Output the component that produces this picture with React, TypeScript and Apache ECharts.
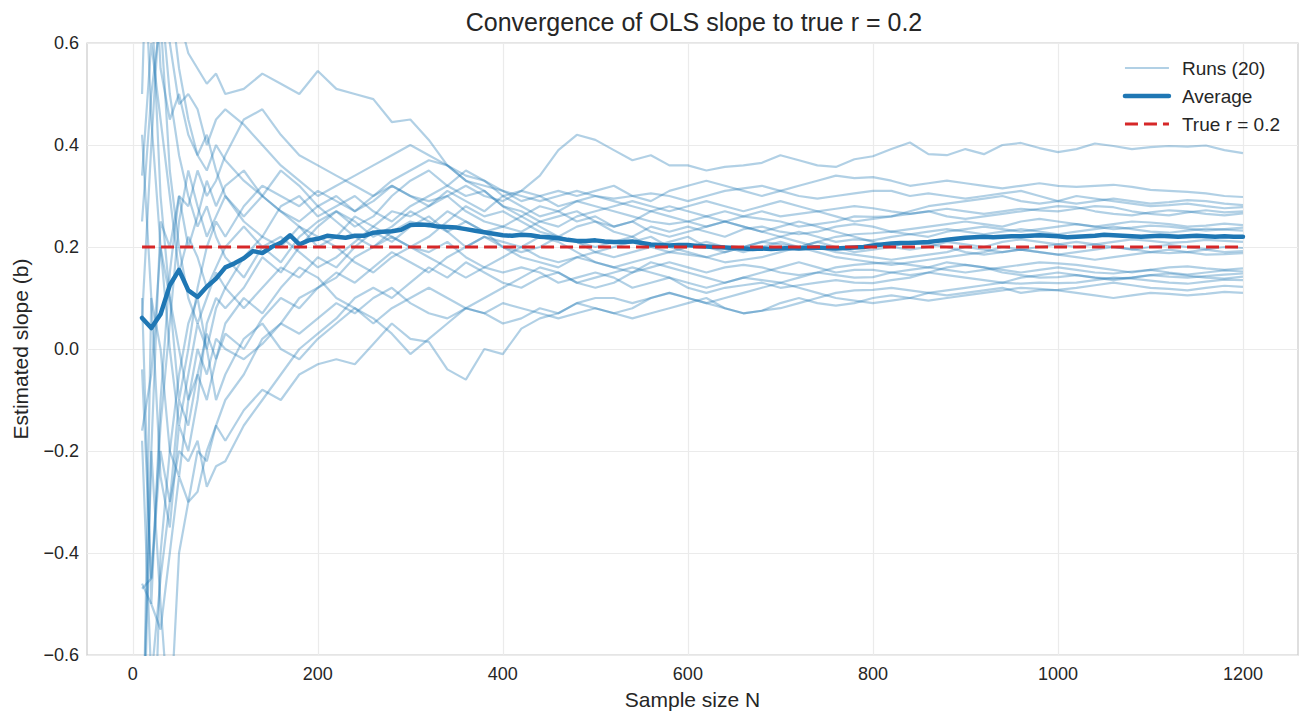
import React, { useEffect, useRef } from "react";
import * as echarts from "echarts";

const TITLE = "Convergence of OLS slope to true r = 0.2";
const X_LABEL = "Sample size N";
const Y_LABEL = "Estimated slope (b)";
const X_TICKS = [0, 200, 400, 600, 800, 1000, 1200];
const TRUE_R = 0.2;

const RUN_N = [
  10, 20, 30, 40, 50, 60, 70, 80, 90, 100,
  120, 140, 160, 180, 200, 220, 240, 260, 280, 300,
  320, 340, 360, 380, 400, 420, 440, 460, 480, 500,
  520, 540, 560, 580, 600, 620, 640, 660, 680, 700,
  720, 740, 760, 780, 800, 820, 840, 860, 880, 900,
  920, 940, 960, 980, 1000, 1020, 1040, 1060, 1080, 1100,
  1120, 1140, 1160, 1180, 1200,
];

const RUN_01 = [0.9, 0.9, 0.55, 0.45, 0.5, 0.42, 0.38, 0.35, 0.4, 0.37,
  0.33, 0.3, 0.27, 0.25, 0.28, 0.3, 0.27, 0.29, 0.32, 0.3,
  0.28, 0.31, 0.29, 0.27, 0.3, 0.31, 0.34, 0.39, 0.42, 0.41,
  0.39, 0.37, 0.38, 0.36, 0.36, 0.35, 0.357, 0.36, 0.365, 0.38,
  0.37, 0.36, 0.357, 0.372, 0.378, 0.392, 0.405, 0.382, 0.38, 0.392,
  0.382, 0.4, 0.404, 0.394, 0.386, 0.392, 0.403, 0.398, 0.392, 0.396,
  0.398, 0.397, 0.399, 0.39, 0.384];
const RUN_02 = [-0.9, -0.2, 0.25, 0.2, 0.3, 0.28, 0.35, 0.3, 0.33, 0.38,
  0.45, 0.47, 0.42, 0.38, 0.36, 0.34, 0.32, 0.3, 0.33, 0.35,
  0.37, 0.36, 0.34, 0.33, 0.31, 0.29, 0.3, 0.31, 0.3, 0.31,
  0.32, 0.3, 0.29, 0.31, 0.32, 0.33, 0.32, 0.31, 0.3, 0.31,
  0.32, 0.33, 0.34, 0.335, 0.337, 0.33, 0.32, 0.325, 0.33, 0.325,
  0.32, 0.315, 0.32, 0.325, 0.32, 0.318, 0.32, 0.322, 0.318, 0.312,
  0.31, 0.308, 0.305, 0.3, 0.298];
const RUN_03 = [1.2, 0.95, 0.8, 0.72, 0.65, 0.58, 0.55, 0.52, 0.54, 0.5,
  0.51, 0.54, 0.52, 0.5, 0.545, 0.51, 0.5, 0.49, 0.445, 0.45,
  0.41, 0.36, 0.33, 0.32, 0.31, 0.3, 0.29, 0.3, 0.31, 0.3,
  0.295, 0.3, 0.305, 0.3, 0.29, 0.3, 0.31, 0.315, 0.32, 0.31,
  0.3, 0.295, 0.3, 0.305, 0.31, 0.31, 0.3, 0.305, 0.3, 0.295,
  0.3, 0.305, 0.31, 0.3, 0.29, 0.285, 0.29, 0.295, 0.29, 0.285,
  0.288, 0.292, 0.29, 0.285, 0.282];
const RUN_04 = [-1.6, -1.0, -0.4, -0.2, -0.05, 0.05, 0.1, 0.0, 0.08, 0.12,
  0.18, 0.22, 0.28, 0.3, 0.26, 0.28, 0.3, 0.27, 0.25, 0.28,
  0.3, 0.32, 0.35, 0.33, 0.3, 0.28, 0.26, 0.27, 0.25, 0.26,
  0.24, 0.25, 0.27, 0.26, 0.25, 0.24, 0.25, 0.26, 0.27, 0.26,
  0.265, 0.27, 0.26, 0.25, 0.255, 0.26, 0.27, 0.28, 0.285, 0.29,
  0.295, 0.3, 0.29, 0.285, 0.29, 0.3, 0.295, 0.29, 0.285, 0.28,
  0.282, 0.285, 0.28, 0.276, 0.278];
const RUN_05 = [0.34, 0.6, 0.45, 0.3, 0.15, 0.22, 0.18, 0.12, 0.16, 0.2,
  0.24, 0.2, 0.17, 0.22, 0.25, 0.27, 0.24, 0.26, 0.3, 0.33,
  0.35, 0.32, 0.3, 0.31, 0.28, 0.27, 0.25, 0.24, 0.26, 0.27,
  0.28, 0.29, 0.28, 0.27, 0.28, 0.29, 0.28, 0.27, 0.28, 0.29,
  0.28, 0.27, 0.275, 0.28, 0.276, 0.27, 0.265, 0.27, 0.275, 0.27,
  0.265, 0.27, 0.275, 0.272, 0.27, 0.275, 0.28, 0.278, 0.27, 0.265,
  0.262, 0.268, 0.272, 0.268, 0.27];
const RUN_06 = [0.5, 1.1, 0.9, 0.7, 0.55, 0.45, 0.38, 0.42, 0.35, 0.3,
  0.26, 0.3, 0.35, 0.32, 0.28, 0.25, 0.22, 0.2, 0.23, 0.25,
  0.24, 0.27, 0.25, 0.23, 0.24, 0.26, 0.28, 0.27, 0.29, 0.28,
  0.27, 0.26, 0.25, 0.245, 0.25, 0.26, 0.27, 0.26, 0.255, 0.25,
  0.24, 0.245, 0.25, 0.26, 0.259, 0.26, 0.265, 0.27, 0.26, 0.255,
  0.26, 0.265, 0.27, 0.275, 0.28, 0.278, 0.27, 0.265, 0.262, 0.268,
  0.272, 0.27, 0.265, 0.262, 0.266];
const RUN_07 = [0.1, -0.5, -0.1, 0.15, 0.3, 0.2, 0.26, 0.33, 0.28, 0.32,
  0.35, 0.3, 0.27, 0.24, 0.2, 0.22, 0.26, 0.24, 0.22, 0.2,
  0.22, 0.25, 0.28, 0.26, 0.27, 0.25, 0.23, 0.22, 0.24, 0.25,
  0.23, 0.22, 0.24, 0.23, 0.24, 0.23, 0.22, 0.235, 0.24, 0.23,
  0.225, 0.23, 0.24, 0.245, 0.24, 0.23, 0.235, 0.24, 0.245, 0.25,
  0.245, 0.24, 0.25, 0.255, 0.25, 0.245, 0.24, 0.245, 0.25, 0.248,
  0.245, 0.24, 0.242, 0.246, 0.243];
const RUN_08 = [1.3, 0.8, 0.7, 0.6, 0.48, 0.5, 0.47, 0.4, 0.45, 0.47,
  0.44, 0.4, 0.36, 0.33, 0.3, 0.32, 0.34, 0.36, 0.38, 0.4,
  0.38, 0.36, 0.33, 0.31, 0.28, 0.26, 0.24, 0.22, 0.21, 0.2,
  0.21, 0.22, 0.2, 0.19, 0.2, 0.21, 0.2, 0.19, 0.2, 0.21,
  0.2, 0.21, 0.22, 0.225, 0.227, 0.23, 0.225, 0.22, 0.23, 0.235,
  0.24, 0.235, 0.23, 0.235, 0.24, 0.245, 0.24, 0.235, 0.238, 0.242,
  0.24, 0.236, 0.232, 0.235, 0.238];
const RUN_09 = [0.25, 0.5, 0.65, 0.35, 0.2, 0.1, 0.05, 0.1, 0.15, 0.12,
  0.08, 0.12, 0.16, 0.14, 0.18, 0.16, 0.2, 0.23, 0.21, 0.24,
  0.26, 0.23, 0.2, 0.22, 0.2, 0.19, 0.2, 0.22, 0.21, 0.19,
  0.18, 0.19, 0.2, 0.21, 0.22, 0.2, 0.19, 0.2, 0.21, 0.22,
  0.23, 0.22, 0.21, 0.215, 0.213, 0.22, 0.225, 0.23, 0.235, 0.23,
  0.225, 0.23, 0.235, 0.23, 0.225, 0.23, 0.235, 0.24, 0.235, 0.23,
  0.228, 0.232, 0.236, 0.234, 0.232];
const RUN_10 = [-0.16, -0.05, 0.2, 0.1, -0.1, 0.0, 0.12, 0.2, 0.25, 0.22,
  0.28, 0.32, 0.3, 0.28, 0.31, 0.29, 0.27, 0.3, 0.32, 0.3,
  0.29, 0.3, 0.27, 0.25, 0.24, 0.23, 0.25, 0.26, 0.27, 0.25,
  0.24, 0.25, 0.23, 0.22, 0.23, 0.24, 0.25, 0.24, 0.23, 0.24,
  0.25, 0.24, 0.23, 0.22, 0.21, 0.2, 0.195, 0.2, 0.21, 0.205,
  0.2, 0.21, 0.215, 0.21, 0.205, 0.2, 0.205, 0.21, 0.215, 0.212,
  0.208, 0.21, 0.214, 0.212, 0.21];
const RUN_11 = [0.06, 0.4, 0.7, 0.5, 0.38, 0.3, 0.24, 0.28, 0.22, 0.18,
  0.14, 0.2, 0.22, 0.19, 0.16, 0.18, 0.21, 0.24, 0.27, 0.26,
  0.28, 0.3, 0.32, 0.3, 0.29, 0.31, 0.3, 0.28, 0.29, 0.3,
  0.29, 0.28, 0.27, 0.28, 0.27, 0.26, 0.25, 0.24, 0.23, 0.22,
  0.21, 0.2, 0.19, 0.185, 0.18, 0.175, 0.18, 0.185, 0.19, 0.2,
  0.195, 0.19, 0.195, 0.2, 0.205, 0.21, 0.205, 0.2, 0.195, 0.2,
  0.204, 0.2, 0.196, 0.2, 0.198];
const RUN_12 = [-0.47, -0.45, -0.2, -0.3, -0.1, -0.15, -0.05, -0.1, -0.02, 0.03,
  0.0, 0.06, 0.1, 0.08, 0.12, 0.15, 0.13, 0.16, 0.19, 0.17,
  0.15, 0.18, 0.2, 0.22, 0.21, 0.2, 0.18, 0.17, 0.18, 0.19,
  0.2, 0.21, 0.22, 0.2, 0.19, 0.18, 0.17, 0.175, 0.18, 0.19,
  0.2, 0.21, 0.2, 0.19, 0.195, 0.2, 0.21, 0.205, 0.2, 0.19,
  0.185, 0.19, 0.195, 0.19, 0.185, 0.19, 0.195, 0.2, 0.196, 0.19,
  0.188, 0.19, 0.195, 0.19, 0.192];
const RUN_13 = [-0.04, -0.45, -0.15, 0.05, 0.25, 0.35, 0.28, 0.22, 0.26, 0.3,
  0.25, 0.22, 0.2, 0.24, 0.22, 0.2, 0.17, 0.15, 0.18, 0.2,
  0.18, 0.16, 0.14, 0.16, 0.18, 0.2, 0.22, 0.21, 0.19, 0.17,
  0.16, 0.17, 0.18, 0.19, 0.185, 0.18, 0.19, 0.2, 0.21, 0.205,
  0.2, 0.19, 0.18, 0.175, 0.17, 0.165, 0.17, 0.175, 0.18, 0.185,
  0.19, 0.2, 0.195, 0.19, 0.185, 0.18, 0.175, 0.18, 0.185, 0.19,
  0.195, 0.19, 0.185, 0.186, 0.188];
const RUN_14 = [0.42, 0.1, -0.25, -0.35, -0.15, -0.2, -0.1, 0.05, 0.1, 0.08,
  0.12, 0.18, 0.15, 0.2, 0.24, 0.27, 0.25, 0.22, 0.24, 0.27,
  0.25, 0.23, 0.25, 0.23, 0.2, 0.18, 0.17, 0.16, 0.18, 0.17,
  0.16, 0.15, 0.16, 0.17, 0.16, 0.15, 0.16, 0.165, 0.16, 0.15,
  0.145, 0.15, 0.16, 0.165, 0.168, 0.17, 0.165, 0.16, 0.155, 0.15,
  0.155, 0.16, 0.165, 0.17, 0.168, 0.165, 0.16, 0.155, 0.15, 0.155,
  0.16, 0.162, 0.158, 0.155, 0.158];
const RUN_15 = [-0.18, -0.65, -0.45, -0.3, -0.2, -0.22, -0.18, -0.27, -0.23, -0.22,
  -0.15, -0.1, -0.05, 0.0, 0.03, 0.06, 0.1, 0.12, 0.1, 0.13,
  0.16, 0.14, 0.17, 0.15, 0.13, 0.12, 0.14, 0.15, 0.13, 0.12,
  0.13, 0.15, 0.17, 0.16, 0.15, 0.14, 0.13, 0.14, 0.15, 0.16,
  0.17, 0.16, 0.15, 0.155, 0.155, 0.15, 0.145, 0.15, 0.16, 0.165,
  0.16, 0.155, 0.15, 0.155, 0.16, 0.155, 0.15, 0.148, 0.152, 0.155,
  0.15, 0.146, 0.15, 0.154, 0.152];
const RUN_16 = [-0.8, -0.2, -0.5, -0.75, -0.4, -0.3, -0.2, -0.22, -0.15, -0.1,
  -0.05, 0.02, 0.05, 0.1, 0.12, 0.14, 0.18, 0.2, 0.22, 0.2,
  0.19, 0.21, 0.18, 0.16, 0.15, 0.16, 0.15, 0.13, 0.14, 0.15,
  0.14, 0.12, 0.13, 0.14, 0.13, 0.12, 0.13, 0.14, 0.135, 0.13,
  0.14, 0.15, 0.145, 0.14, 0.141, 0.15, 0.155, 0.16, 0.17, 0.165,
  0.16, 0.15, 0.145, 0.14, 0.141, 0.145, 0.14, 0.135, 0.14, 0.145,
  0.142, 0.14, 0.143, 0.146, 0.148];
const RUN_17 = [0.9, 0.7, 0.3, 0.1, 0.0, -0.1, -0.05, 0.03, -0.02, 0.05,
  0.1, 0.07, 0.12, 0.16, 0.14, 0.1, 0.08, 0.05, 0.08, 0.1,
  0.12, 0.1, 0.08, 0.1, 0.12, 0.14, 0.16, 0.15, 0.13, 0.14,
  0.15, 0.16, 0.15, 0.14, 0.12, 0.11, 0.12, 0.125, 0.13, 0.12,
  0.125, 0.13, 0.135, 0.13, 0.129, 0.135, 0.14, 0.15, 0.145, 0.14,
  0.135, 0.13, 0.14, 0.145, 0.15, 0.145, 0.14, 0.138, 0.14, 0.145,
  0.148, 0.144, 0.14, 0.138, 0.142];
const RUN_18 = [-0.9, 0.1, 0.0, -0.2, -0.25, -0.1, 0.0, -0.05, 0.02, 0.0,
  -0.02, 0.01, 0.05, 0.03, 0.06, 0.09, 0.07, 0.1, 0.12, 0.09,
  0.07, 0.06, 0.08, 0.07, 0.05, 0.06, 0.08, 0.07, 0.09, 0.1,
  0.1, 0.09, 0.1, 0.11, 0.1, 0.09, 0.1, 0.11, 0.12, 0.13,
  0.12, 0.11, 0.1, 0.095, 0.09, 0.095, 0.1, 0.11, 0.115, 0.12,
  0.125, 0.13, 0.128, 0.13, 0.129, 0.13, 0.135, 0.14, 0.138, 0.134,
  0.13, 0.128, 0.132, 0.136, 0.135];
const RUN_19 = [-0.46, -0.5, -0.55, -0.4, -0.25, -0.3, -0.28, -0.2, -0.15, -0.18,
  -0.12, -0.08, -0.1, -0.05, -0.03, -0.02, -0.03, 0.01, 0.05, 0.02,
  0.014, -0.04, -0.06, 0.0, -0.01, 0.04, 0.06, 0.07, 0.09, 0.08,
  0.07, 0.06, 0.07, 0.08, 0.09, 0.1, 0.08, 0.07, 0.075, 0.08,
  0.09, 0.1, 0.11, 0.115, 0.116, 0.12, 0.115, 0.11, 0.105, 0.11,
  0.115, 0.12, 0.11, 0.115, 0.116, 0.12, 0.125, 0.13, 0.125, 0.12,
  0.118, 0.115, 0.12, 0.124, 0.122];
const RUN_20 = [0.9, 0.45, 0.2, 0.0, -0.15, -0.05, 0.05, 0.0, -0.1, -0.05,
  0.02, 0.05, 0.0, -0.02, 0.02, 0.05, 0.08, 0.06, 0.03, -0.01,
  0.02, 0.05, 0.08, 0.07, 0.09, 0.08, 0.07, 0.06, 0.07, 0.08,
  0.07, 0.08, 0.1, 0.11, 0.1, 0.09, 0.08, 0.07, 0.075, 0.09,
  0.1, 0.09, 0.085, 0.09, 0.1, 0.105, 0.1, 0.095, 0.1, 0.105,
  0.11, 0.115, 0.12, 0.118, 0.115, 0.11, 0.105, 0.1, 0.105, 0.11,
  0.108, 0.105, 0.108, 0.112, 0.11];

const RUNS = [RUN_01, RUN_02, RUN_03, RUN_04, RUN_05, RUN_06, RUN_07, RUN_08, RUN_09, RUN_10,
  RUN_11, RUN_12, RUN_13, RUN_14, RUN_15, RUN_16, RUN_17, RUN_18, RUN_19, RUN_20];

const AVG_N = [
  10, 20, 30, 40, 50, 60, 70, 80, 90, 100, 110, 120, 130, 140, 150, 160, 170, 180, 190, 200,
  210, 220, 230, 240, 250, 260, 270, 280, 290, 300, 310, 320, 330, 340, 350, 360, 370, 380, 390, 400,
  410, 420, 430, 440, 450, 460, 470, 480, 490, 500, 510, 520, 530, 540, 550, 560, 570, 580, 590, 600,
  610, 620, 630, 640, 650, 660, 670, 680, 690, 700, 710, 720, 730, 740, 750, 760, 770, 780, 790, 800,
  810, 820, 830, 840, 850, 860, 870, 880, 890, 900, 910, 920, 930, 940, 950, 960, 970, 980, 990, 1000,
  1010, 1020, 1030, 1040, 1050, 1060, 1070, 1080, 1090, 1100, 1110, 1120, 1130, 1140, 1150, 1160, 1170, 1180, 1190, 1200,
];
const AVG_B = [
  0.061, 0.041, 0.068, 0.125, 0.155, 0.115, 0.102, 0.122, 0.138, 0.16,
  0.168, 0.178, 0.192, 0.188, 0.2, 0.208, 0.223, 0.205, 0.213, 0.216,
  0.222, 0.22, 0.218, 0.222, 0.222, 0.228, 0.23, 0.231, 0.234, 0.243,
  0.244, 0.243, 0.24, 0.239, 0.238, 0.235, 0.232, 0.229, 0.226, 0.223,
  0.222, 0.224, 0.223, 0.22, 0.219, 0.217, 0.214, 0.212, 0.212, 0.213,
  0.211, 0.21, 0.21, 0.211, 0.208, 0.205, 0.204, 0.203, 0.204, 0.204,
  0.202, 0.201, 0.2, 0.199, 0.198, 0.197, 0.196, 0.197, 0.196, 0.197,
  0.198, 0.197, 0.198, 0.199, 0.198, 0.197, 0.198, 0.199, 0.2, 0.203,
  0.205, 0.207, 0.208, 0.208, 0.209, 0.21, 0.212, 0.214, 0.216, 0.218,
  0.219, 0.22, 0.219, 0.22, 0.221, 0.221, 0.222, 0.223, 0.222, 0.221,
  0.219, 0.22, 0.221, 0.222, 0.224, 0.223, 0.222, 0.221, 0.22, 0.221,
  0.222, 0.221, 0.22, 0.221, 0.222, 0.221, 0.22, 0.221, 0.22, 0.22,
];
const TRUE_N = [10, 1200];

const FONT = "'Liberation Sans', Arial, 'DejaVu Sans', sans-serif";
const TEXT = "#262626";
const BLUE = "#1f77b4";
const RED = "#d62728";

function fmtY(v: number) {
  if (Math.abs(v) < 1e-9) return "0.0";
  return v.toFixed(1).replace("-", "\u2212");
}

export default function App() {
  const ref = useRef<HTMLDivElement>(null);
  useEffect(() => {
    if (!ref.current) return;
    const chart = echarts.init(ref.current, null, { renderer: "svg" });
    const runSeries = RUNS.map((run) => ({
      type: "line",
      name: "Runs (20)",
      data: RUN_N.map((n, i) => [n, run[i]]),
      symbol: "none",
      silent: true,
      clip: true,
      z: 2,
      lineStyle: { color: BLUE, width: 2.2, opacity: 0.35 },
      itemStyle: { color: BLUE, opacity: 0.35 },
    }));
    chart.setOption({
      animation: false,
      backgroundColor: "#ffffff",
      textStyle: { fontFamily: FONT },
      grid: {
        left: 87, top: 43, right: 13, bottom: 68,
        show: true, borderColor: "#cccccc", borderWidth: 1.25, backgroundColor: "transparent",
        containLabel: false,
      },
      graphic: [
        {
          type: "text", x: 694, y: 22, z: 10,
          style: {
            text: TITLE, fill: TEXT, font: `25px ${FONT}`,
            textAlign: "center", textVerticalAlign: "middle",
          },
        },
      ],
      legend: {
        data: ["Runs (20)", "Average", "True r = 0.2"],
        orient: "vertical",
        right: 26, top: 53,
        itemWidth: 44, itemHeight: 14, itemGap: 8,
        itemStyle: { opacity: 0 },
        lineStyle: { width: "inherit" },
        textStyle: { fontSize: 19, color: TEXT, fontFamily: FONT, lineHeight: 20, padding: [0, 0, 0, 8] },
        selectedMode: false,
      },
      xAxis: {
        type: "value",
        min: -49.5, max: 1259.5,
        name: X_LABEL, nameLocation: "middle", nameGap: 34,
        nameTextStyle: { fontSize: 21, color: TEXT, fontFamily: FONT },
        axisLine: { show: false },
        axisTick: { show: false, customValues: X_TICKS },
        axisLabel: {
          customValues: X_TICKS, fontSize: 18, color: TEXT, margin: 10, fontFamily: FONT,
          formatter: (v: number) => String(Math.round(v)),
        },
        splitLine: { show: true, lineStyle: { color: "#ebebeb", width: 1.2 } },
      },
      yAxis: {
        type: "value",
        min: -0.6, max: 0.6, interval: 0.2,
        name: Y_LABEL, nameLocation: "middle", nameGap: 56,
        nameTextStyle: { fontSize: 21, color: TEXT, fontFamily: FONT },
        axisLine: { show: false },
        axisTick: { show: false },
        axisLabel: { formatter: fmtY, fontSize: 18, color: TEXT, margin: 8, fontFamily: FONT },
        splitLine: { show: true, lineStyle: { color: "#ebebeb", width: 1.2 } },
      },
      series: [
        ...runSeries,
        {
          type: "line",
          name: "Average",
          data: AVG_N.map((n, i) => [n, AVG_B[i]]),
          symbol: "none", silent: true, z: 3,
          lineStyle: { color: BLUE, width: 4.5, cap: "round", join: "round" },
          itemStyle: { color: BLUE },
        },
        {
          type: "line",
          name: "True r = 0.2",
          data: TRUE_N.map((n) => [n, TRUE_R]),
          symbol: "none", silent: true, z: 4,
          lineStyle: { color: RED, width: 3.2, type: [13, 6] },
          itemStyle: { color: RED },
        },
      ],
    });
    return () => chart.dispose();
  }, []);
  return (
    <div
      ref={ref}
      style={{ position: "fixed", left: 0, top: 0, width: "1311px", height: "723px" }}
    />
  );
}
